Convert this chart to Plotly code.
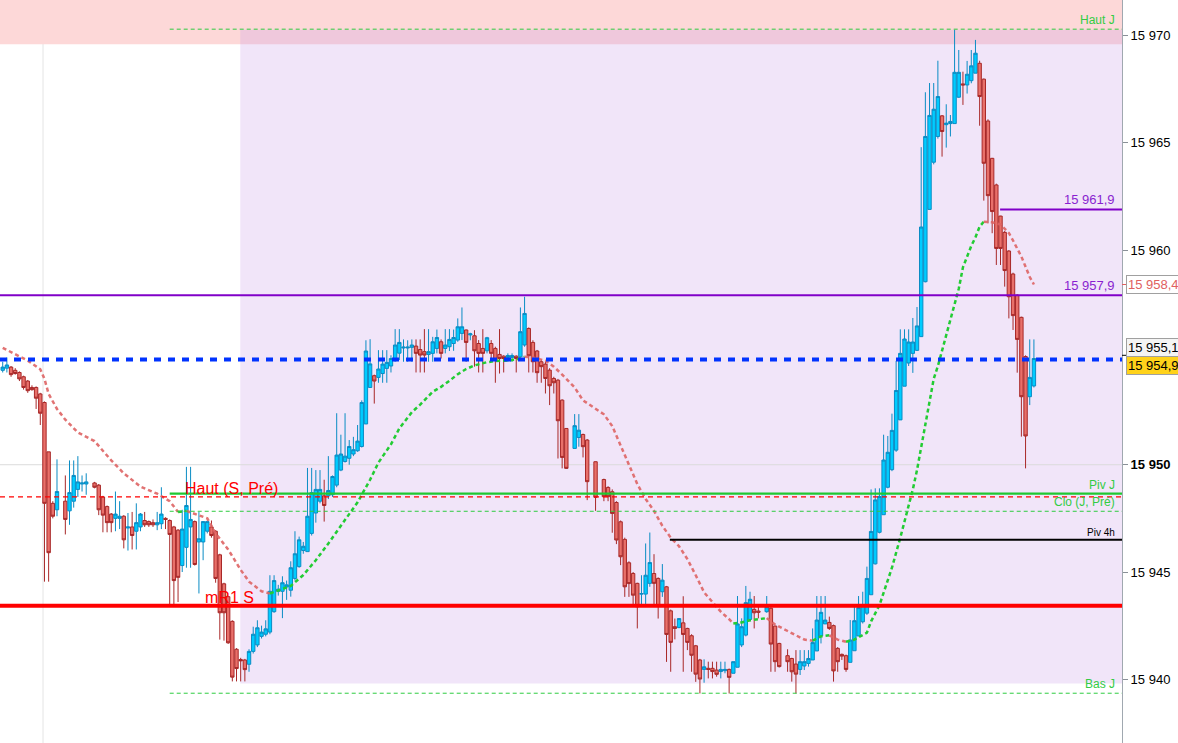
import plotly.graph_objects as go

# ---------------- data ----------------
# bar slots (one per period); a few slots printed no bar
gap_slots = [14, 21, 136, 141, 143, 182, 187]
n_slots = 248
bar_x = [i for i in range(n_slots) if i not in gap_slots]

bar_open = [
    # 0-13
    15954.4, 15954.5, 15954.55, 15954.4, 15954.3, 15954.1, 15953.9, 15953.6, 15953.6, 15953.3,
    15952.9, 15950.6, 15948.2, 15947.9,
    # 15-20
    15948.3, 15947.85, 15948.3, 15948.85, 15949.1, 15949.1,
    # 22-58
    15949.15, 15949.05, 15948.5, 15948.05, 15947.7, 15947.5, 15947.5, 15947.6, 15947.05, 15947.1,
    15946.9, 15947.1, 15947.4, 15947.35, 15947.3, 15947.2, 15947.25, 15947.5, 15947.4, 15947.1,
    15946.95, 15945.3, 15946.15, 15947.1, 15947.35, 15946.4, 15946.4, 15946.9, 15947.1, 15946.9,
    15945.8, 15944.45, 15943.85, 15942.7, 15941.4, 15940.92, 15940.9,
    # 59-135
    15940.7, 15941.3, 15941.6, 15942.0, 15942.1, 15942.2, 15943.15, 15944.1, 15944.1, 15944.3,
    15944.15, 15944.7, 15945.25, 15946.0, 15945.95, 15946.8, 15947.75, 15948.3, 15948.55, 15948.55,
    15948.6, 15949.05, 15949.75, 15950.15, 15950.3, 15950.5, 15950.65, 15950.85, 15951.9, 15953.6,
    15954.15, 15954.07, 15954.25, 15954.49, 15954.6, 15954.85, 15955.2, 15955.44, 15955.44, 15955.47,
    15955.53, 15955.37, 15955.27, 15955.14, 15955.19, 15955.42, 15955.73, 15955.42, 15955.5, 15955.65,
    15955.81, 15956.12, 15956.28, 15956.05, 15956.01, 15955.65, 15955.42, 15955.31, 15955.65, 15955.42,
    15955.14, 15955.06, 15955.0, 15955.0, 15955.06, 15955.03, 15955.58, 15956.35, 15955.7, 15955.3,
    15954.8, 15954.69, 15954.41, 15954.02, 15953.94, 15953.01, 15951.69,
    # 137-140, 142
    15950.76, 15951.27, 15951.41, 15951.15, 15950.14,
    # 144-181
    15949.31, 15948.94, 15948.74, 15948.24, 15947.34, 15946.52, 15945.43, 15944.93, 15944.47, 15943.97,
    15943.97, 15944.47, 15944.93, 15944.7, 15944.08, 15944.31, 15943.19, 15942.45, 15942.41, 15942.63,
    15942.37, 15942.03, 15941.56, 15940.9, 15940.46, 15940.51, 15940.51, 15940.43, 15940.36, 15940.4,
    15940.46, 15940.28, 15940.56, 15941.6, 15942.06, 15942.79, 15943.26, 15943.18,
    # 183-186
    15943.15, 15943.31, 15942.48, 15941.67,
    # 188-247
    15941.1, 15940.97, 15940.71, 15940.46, 15940.62, 15940.74, 15940.9, 15941.32, 15942.02, 15942.58,
    15942.65, 15942.5, 15941.44, 15941.16, 15941.1, 15940.79, 15941.33, 15942.02, 15942.68, 15943.08,
    15943.94, 15945.38, 15946.85, 15947.67, 15948.95, 15949.77, 15950.68, 15952.09, 15953.66, 15954.74,
    15955.19, 15955.33, 15955.97, 15958.53, 15961.9, 15964.1, 15965.3, 15966.26, 15965.85, 15965.9,
    15965.9, 15967.13, 15967.75, 15967.7, 15967.9, 15968.25, 15968.71, 15967.97, 15966.02, 15964.28,
    15963.04, 15961.59, 15960.83, 15959.96, 15958.89, 15957.9, 15956.87, 15955.04, 15953.17, 15953.67,
]

bar_high = [
    # 0-13
    15954.8, 15955.0, 15954.6, 15954.5, 15954.35, 15954.15, 15953.95, 15953.7, 15953.65, 15953.35,
    15952.95, 15950.6, 15948.3, 15950.25,
    # 15-20
    15949.5, 15950.2, 15950.2, 15950.4, 15949.5, 15949.6,
    # 22-58
    15949.2, 15949.1, 15948.55, 15948.1, 15947.75, 15948.75, 15948.3, 15947.65, 15947.75, 15947.8,
    15948.2, 15947.75, 15947.8, 15947.4, 15947.45, 15947.8, 15948.95, 15947.55, 15947.45, 15947.15,
    15947.0, 15947.9, 15949.9, 15949.9, 15947.4, 15947.8, 15947.35, 15947.4, 15947.4, 15946.95,
    15945.85, 15944.5, 15943.9, 15942.75, 15941.45, 15941.0, 15940.95,
    # 59-135
    15941.4, 15942.45, 15942.75, 15942.5, 15942.75, 15944.85, 15944.85, 15944.4, 15944.8, 15944.6,
    15945.5, 15946.9, 15946.65, 15946.4, 15949.85, 15949.85, 15949.75, 15949.75, 15949.3, 15950.4,
    15949.5, 15952.4, 15951.4, 15952.4, 15951.15, 15951.3, 15951.85, 15953.0, 15955.8, 15955.85,
    15954.2, 15955.34, 15955.34, 15955.34, 15955.1, 15956.32, 15956.32, 15955.84, 15955.8, 15955.84,
    15955.84, 15955.84, 15956.32, 15956.32, 15955.96, 15956.3, 15955.84, 15956.32, 15956.32, 15956.3,
    15956.82, 15957.33, 15956.3, 15956.15, 15956.27, 15955.81, 15956.32, 15955.96, 15955.81, 15955.5,
    15956.32, 15955.1, 15955.19, 15955.19, 15955.1, 15957.33, 15957.83, 15956.4, 15955.8, 15955.35,
    15954.9, 15954.8, 15954.5, 15954.1, 15954.0, 15953.05, 15951.7,
    # 137-140, 142
    15952.36, 15952.36, 15951.45, 15951.2, 15950.15,
    # 144-181
    15949.35, 15949.0, 15948.85, 15948.3, 15947.4, 15946.6, 15945.5, 15945.0, 15944.5, 15944.85,
    15946.33, 15946.84, 15945.83, 15944.75, 15945.37, 15944.35, 15943.25, 15942.83, 15942.85, 15943.87,
    15942.4, 15942.1, 15941.6, 15940.95, 15940.93, 15940.82, 15940.82, 15940.82, 15940.82, 15940.82,
    15940.5, 15940.82, 15943.88, 15942.84, 15944.35, 15944.08, 15943.88, 15943.41,
    # 183-186
    15943.88, 15943.35, 15942.5, 15941.7,
    # 188-247
    15941.4, 15941.0, 15941.36, 15941.36, 15941.36, 15941.36, 15942.37, 15943.88, 15943.88, 15943.88,
    15942.92, 15942.55, 15941.5, 15941.2, 15941.15, 15942.76, 15943.46, 15943.88, 15944.08, 15945.25,
    15948.85, 15948.9, 15948.9, 15951.4, 15951.34, 15952.38, 15954.84, 15956.31, 15956.31, 15956.31,
    15956.84, 15957.35, 15964.8, 15967.36, 15967.79, 15967.79, 15968.83, 15966.3, 15966.8, 15966.3,
    15970.27, 15969.33, 15968.32, 15968.82, 15969.33, 15969.8, 15968.83, 15968.0, 15966.1, 15964.3,
    15963.1, 15961.6, 15960.9, 15960.0, 15958.95, 15957.95, 15956.9, 15955.1, 15955.84, 15955.84,
]

bar_low = [
    # 0-13
    15954.3, 15954.3, 15954.1, 15954.2, 15953.9, 15953.5, 15953.35, 15953.45, 15952.6, 15951.85,
    15944.55, 15944.55, 15947.5, 15947.6,
    # 15-20
    15946.75, 15947.2, 15948.0, 15948.5, 15948.75, 15948.6,
    # 22-58
    15948.9, 15947.65, 15946.85, 15946.85, 15946.85, 15946.9, 15947.0, 15946.1, 15946.0, 15946.05,
    15946.05, 15946.9, 15947.1, 15947.1, 15947.1, 15946.95, 15947.0, 15947.0, 15943.5, 15943.5,
    15943.6, 15945.0, 15945.2, 15945.2, 15945.3, 15944.0, 15945.55, 15946.8, 15946.6, 15944.5,
    15941.85, 15941.8, 15941.65, 15939.9, 15939.9, 15939.9, 15939.9,
    # 59-135
    15940.35, 15941.2, 15941.5, 15941.9, 15942.0, 15942.1, 15943.1, 15943.9, 15942.85, 15943.7,
    15943.85, 15944.6, 15945.2, 15945.85, 15945.95, 15946.7, 15947.3, 15948.2, 15947.35, 15948.4,
    15948.5, 15948.95, 15949.7, 15950.1, 15950.0, 15950.4, 15950.6, 15950.8, 15951.9, 15953.6,
    15952.85, 15953.82, 15953.82, 15953.82, 15954.3, 15954.8, 15954.88, 15954.8, 15954.8, 15954.8,
    15954.3, 15954.3, 15954.3, 15954.8, 15954.8, 15955.19, 15954.95, 15955.19, 15955.3, 15955.31,
    15955.73, 15955.81, 15954.8, 15955.8, 15954.57, 15954.3, 15954.3, 15955.19, 15954.8, 15953.82,
    15954.25, 15954.3, 15954.8, 15954.8, 15954.3, 15955.0, 15955.5, 15954.3, 15954.3, 15953.82,
    15953.82, 15953.32, 15952.78, 15953.32, 15950.29, 15949.83, 15949.8,
    # 137-140, 142
    15950.76, 15950.84, 15950.34, 15948.35, 15947.85,
    # 144-181
    15948.3, 15948.3, 15946.83, 15946.3, 15945.32, 15943.84, 15943.84, 15943.38, 15942.37, 15943.38,
    15943.38, 15944.31, 15943.38, 15942.83, 15943.84, 15940.81, 15940.35, 15941.86, 15942.38, 15940.35,
    15941.36, 15940.35, 15939.88, 15939.34, 15939.84, 15940.04, 15940.04, 15940.12, 15940.04, 15940.28,
    15939.34, 15940.28, 15940.56, 15941.5, 15942.0, 15942.7, 15942.37, 15942.84,
    # 183-186
    15943.1, 15940.35, 15940.35, 15940.55,
    # 188-247
    15940.35, 15939.89, 15939.34, 15940.2, 15940.43, 15940.59, 15940.9, 15941.32, 15941.67, 15942.58,
    15942.3, 15939.89, 15940.35, 15940.9, 15940.35, 15940.79, 15941.33, 15942.02, 15942.6, 15943.0,
    15943.94, 15945.35, 15946.8, 15947.67, 15948.9, 15949.7, 15950.6, 15952.09, 15953.66, 15954.6,
    15954.28, 15955.3, 15955.97, 15958.5, 15961.9, 15964.0, 15965.2, 15964.36, 15964.78, 15965.3,
    15965.9, 15967.1, 15966.77, 15967.3, 15967.78, 15968.25, 15965.8, 15962.31, 15961.25, 15960.79,
    15959.31, 15959.31, 15958.3, 15956.82, 15956.28, 15954.29, 15951.31, 15949.83, 15952.78, 15953.6,
]

bar_close = [
    # 0-13
    15954.55, 15954.65, 15954.2, 15954.25, 15954.0, 15953.6, 15953.45, 15953.5, 15953.1, 15952.4,
    15948.2, 15945.9, 15947.6, 15948.75,
    # 15-20
    15947.45, 15948.7, 15949.5, 15949.2, 15949.15, 15949.2,
    # 22-58
    15948.95, 15947.9, 15947.65, 15947.3, 15947.3, 15947.7, 15947.6, 15946.5, 15947.1, 15946.7,
    15947.3, 15947.7, 15947.2, 15947.2, 15947.2, 15947.3, 15947.7, 15947.45, 15946.75, 15944.6,
    15944.75, 15947.0, 15948.1, 15947.45, 15945.35, 15946.55, 15947.35, 15947.35, 15946.7, 15944.7,
    15943.1, 15943.1, 15941.7, 15940.1, 15940.5, 15940.86, 15940.45,
    # 59-135
    15941.3, 15942.1, 15942.4, 15942.2, 15942.35, 15944.1, 15944.6, 15944.2, 15944.5, 15944.4,
    15945.2, 15945.85, 15946.5, 15946.2, 15947.6, 15948.7, 15948.85, 15948.85, 15948.1, 15948.8,
    15949.45, 15950.45, 15950.5, 15950.4, 15950.85, 15950.7, 15951.1, 15952.9, 15955.3, 15954.7,
    15953.9, 15954.46, 15954.69, 15954.77, 15954.95, 15955.58, 15955.7, 15955.48, 15955.48, 15955.58,
    15955.19, 15955.11, 15955.11, 15955.27, 15955.73, 15955.93, 15955.19, 15955.58, 15955.84, 15955.93,
    15956.43, 15956.43, 15955.7, 15956.1, 15955.31, 15955.19, 15955.19, 15955.92, 15955.19, 15954.88,
    15954.95, 15954.95, 15955.09, 15955.09, 15954.95, 15956.2, 15957.05, 15955.08, 15954.8, 15954.29,
    15954.57, 15954.02, 15953.68, 15953.82, 15952.05, 15950.34, 15949.83,
    # 137-140, 142
    15951.82, 15951.61, 15950.84, 15949.21, 15948.48,
    # 144-181
    15948.51, 15948.51, 15947.73, 15946.49, 15945.71, 15944.31, 15944.46, 15943.92, 15943.38, 15943.99,
    15944.85, 15945.44, 15944.47, 15943.41, 15944.62, 15942.09, 15941.72, 15942.37, 15942.83, 15942.09,
    15941.72, 15941.12, 15940.24, 15940.01, 15940.58, 15940.46, 15940.36, 15940.23, 15940.46, 15940.46,
    15940.09, 15940.82, 15942.58, 15942.45, 15943.57, 15943.73, 15943.1, 15943.12,
    # 183-186
    15943.38, 15941.64, 15940.82, 15940.59,
    # 188-247
    15940.82, 15940.35, 15940.24, 15940.82, 15940.82, 15940.97, 15941.71, 15942.76, 15943.12, 15942.76,
    15942.37, 15940.39, 15940.82, 15941.08, 15940.46, 15941.83, 15942.73, 15943.34, 15943.46, 15944.7,
    15946.89, 15948.36, 15948.52, 15950.22, 15950.58, 15951.6, 15953.46, 15955.19, 15955.86, 15955.72,
    15955.72, 15956.47, 15961.08, 15965.3, 15966.28, 15966.57, 15967.16, 15965.53, 15965.92, 15966.0,
    15968.29, 15968.29, 15967.7, 15968.2, 15968.59, 15969.18, 15967.16, 15964.05, 15962.54, 15961.8,
    15960.08, 15960.08, 15959.05, 15957.83, 15956.95, 15955.84, 15953.17, 15951.34, 15954.07, 15954.95,
]

# moving average (green while rising, red while falling)
ma_x = [0, 3, 6, 9, 10, 11, 13, 15, 18, 22, 26, 29, 33, 37, 40, 42, 44, 46, 49, 51,
        54, 57, 59, 62, 64, 66, 69, 72, 75, 78, 82, 85, 88, 90, 93, 95, 98, 100, 103, 105,
        107, 109, 111, 113, 116, 118, 121, 123, 125, 127, 130, 132, 134, 137, 139, 142, 144, 146, 148, 150,
        152, 154, 156, 158, 160, 162, 164, 166, 168, 170, 172, 174, 175, 177, 179, 181, 183, 185, 188, 190,
        192, 194, 196, 198, 200, 202, 204, 207, 208, 210, 212, 213, 215, 217, 218, 219, 220, 221, 222, 223,
        224, 225, 226, 227, 228, 229, 230, 231, 232, 233, 234, 235, 237, 239, 241, 242, 244, 246, 247]
ma_y = [15955.45, 15955.15, 15954.85, 15954.45, 15954.0, 15953.3, 15952.6, 15952.1, 15951.5, 15951.1,
        15950.2, 15949.6, 15948.98, 15948.65, 15948.3, 15947.8, 15947.85, 15947.7, 15947.5, 15946.8,
        15946.05, 15945.1, 15944.55, 15944.1, 15944.0, 15944.15, 15944.35, 15944.86, 15945.55, 15946.33,
        15947.4, 15948.25, 15949.3, 15950.1, 15950.95, 15951.69, 15952.45, 15952.8, 15953.4, 15953.63,
        15953.91, 15954.22, 15954.46, 15954.63, 15954.78, 15954.83, 15954.86, 15954.9, 15955.03, 15955.0,
        15954.85, 15954.57, 15954.2, 15953.6, 15953.0, 15952.6, 15952.35, 15951.8, 15950.9, 15949.95,
        15949.1, 15948.4, 15947.85, 15947.15, 15946.6, 15946.2, 15945.6, 15944.85, 15944.05, 15943.6,
        15943.15, 15942.8, 15942.6, 15942.65, 15942.75, 15942.8, 15942.85, 15942.55, 15942.25, 15942.05,
        15941.85, 15941.8, 15942.0, 15942.05, 15941.85, 15941.75, 15941.85, 15942.17, 15942.7, 15943.45,
        15944.6, 15945.2, 15946.6, 15948.1, 15948.85, 15949.75, 15950.8, 15951.9, 15953.0, 15954.0,
        15954.6, 15955.3, 15956.1, 15956.8, 15957.44, 15958.2, 15959.2, 15959.7, 15960.2, 15960.6,
        15961.1, 15961.33, 15961.3, 15961.2, 15960.8, 15960.45, 15959.7, 15958.75, 15958.4]

# price levels
haut_j = 15970.3
bas_j = 15939.35
piv_j = 15948.65
clo_j_pre = 15947.83
haut_s_pre = 15948.5
piv_4h = 15946.5
mr1_s = 15943.43
level_hi = 15961.9
level_lo = 15957.9
last_price = 15954.9
bid_price = 15955.1
ma_last = 15958.4
grid_price = 15950

# zones
pink_zone_low = 15969.6
range_zone = (15939.8, 15970.27)
range_zone_start = 56.9
day_start = 9.65
daily_start = 40.0
piv_4h_start = 159.8
level_hi_start = 238.9

y_ticks = [15940, 15945, 15950, 15960, 15965, 15970]
y_tick_text = ["15 940", "15 945", "<b>15 950</b>", "15 960", "15 965", "15 970"]

assert len(bar_x) == len(bar_open) == len(bar_high) == len(bar_low) == len(bar_close)
assert len(ma_x) == len(ma_y)

# ---------------- figure ----------------
X_RANGE = [-0.65, 268.1]
Y_RANGE = [15937.03, 15971.66]
FONT = "Liberation Sans, Arial, sans-serif"

GREEN = "#2ecc40"
RED = "#ff0000"
PURPLE = "#8000c8"
BLUE = "#0033ff"

fig = go.Figure()

fig.add_trace(go.Candlestick(
    x=bar_x, open=bar_open, high=bar_high, low=bar_low, close=bar_close,
    increasing=dict(fillcolor="#00ccff", line=dict(color="#0a8cc4", width=1)),
    decreasing=dict(fillcolor="#e8706a", line=dict(color="#a82828", width=1)),
    whiskerwidth=0, showlegend=False, hoverinfo="skip",
))

# moving average split into rising / falling runs
runs = []
cur = [0]
cur_up = ma_y[1] > ma_y[0]
for i in range(1, len(ma_x)):
    up = ma_y[i] > ma_y[i - 1]
    if up != cur_up:
        runs.append((cur_up, cur))
        cur = [i - 1]
        cur_up = up
    cur.append(i)
runs.append((cur_up, cur))

for up, idx in runs:
    fig.add_trace(go.Scatter(
        x=[ma_x[i] for i in idx], y=[ma_y[i] for i in idx], mode="lines",
        line=dict(color="#22cc33" if up else "rgba(222,100,100,0.9)", width=2.5, dash="4px,3px"),
        showlegend=False, hoverinfo="skip",
    ))

shapes = []
# zones
shapes.append(dict(type="rect", xref="x", yref="y", x0=X_RANGE[0], x1=X_RANGE[1],
                   y0=pink_zone_low, y1=Y_RANGE[1], fillcolor="#fdd8d8", line_width=0, layer="below"))
shapes.append(dict(type="rect", xref="x", yref="y", x0=range_zone_start, x1=X_RANGE[1],
                   y0=range_zone[0], y1=range_zone[1], fillcolor="rgba(200,150,230,0.25)",
                   line_width=0, layer="below"))
# grid
shapes.append(dict(type="line", xref="x", yref="y", x0=X_RANGE[0], x1=X_RANGE[1],
                   y0=grid_price, y1=grid_price, line=dict(color="#dcdcdc", width=1), layer="below"))
shapes.append(dict(type="line", xref="x", yref="paper", x0=day_start, x1=day_start,
                   y0=0, y1=1, line=dict(color="#e4e4e4", width=1), layer="below"))


def hline(y, x0, color, width, dash="solid"):
    shapes.append(dict(type="line", xref="x", yref="y", x0=x0, x1=X_RANGE[1], y0=y, y1=y,
                       line=dict(color=color, width=width, dash=dash), layer="above"))


hline(haut_j, daily_start, GREEN, 1, "4px,3px")
hline(level_hi, level_hi_start, PURPLE, 2)
hline(level_lo, X_RANGE[0], PURPLE, 2)
hline(haut_s_pre, X_RANGE[0], RED, 1.3, "5px,4px")
hline(piv_j, daily_start, "#1fc832", 2.2)
hline(clo_j_pre, daily_start, GREEN, 1, "4px,3px")
hline(piv_4h, piv_4h_start, "#000000", 2)
hline(mr1_s, X_RANGE[0], RED, 4)
hline(bas_j, daily_start, GREEN, 1, "4px,3px")
hline(last_price, X_RANGE[0], BLUE, 4, "7px,7px")

# little pointer ticks on the price scale for the boxed values
for y, col in [(ma_last, "#e06060"), (bid_price, "#000000")]:
    shapes.append(dict(type="line", xref="paper", yref="y", x0=1, x1=1.005, y0=y, y1=y,
                       line=dict(color=col, width=1), layer="above"))

annotations = []


def right_label(text, y, color, size=12):
    annotations.append(dict(text=text, xref="paper", yref="y", x=1, y=y, xanchor="right",
                            yanchor="bottom", xshift=-5, yshift=0, showarrow=False,
                            font=dict(family=FONT, size=size, color=color)))


right_label("Haut J", haut_j, "#33cc44")
right_label("15 961,9", level_hi, "#8a1fd0", 13)
right_label("15 957,9", level_lo, "#8a1fd0", 13)
right_label("Piv J", piv_j, "#33cc44")
right_label("Clo (J, Pré)", clo_j_pre, "#33cc44")
right_label("Piv 4h", piv_4h, "#000000", 10)
right_label("Bas J", bas_j, "#33cc44")

annotations.append(dict(text="Haut (S, Pré)", xref="x", yref="y", x=43.2, y=haut_s_pre,
                        xanchor="left", yanchor="bottom", yshift=-2, showarrow=False,
                        font=dict(family=FONT, size=16, color=RED)))
annotations.append(dict(text="mR1 S", xref="x", yref="y", x=48.0, y=mr1_s,
                        xanchor="left", yanchor="bottom", yshift=-2, showarrow=False,
                        font=dict(family=FONT, size=16, color=RED)))

# value boxes on the price scale
annotations.append(dict(text="15 958,4", xref="paper", yref="y", x=1, y=ma_last,
                        xanchor="left", yanchor="middle", xshift=4, showarrow=False,
                        bgcolor="#ffffff", bordercolor="#a0a0a0", borderwidth=1, borderpad=1,
                        font=dict(family=FONT, size=13, color="#e06060")))
annotations.append(dict(text="15 955,1", xref="paper", yref="y", x=1, y=bid_price,
                        xanchor="left", yanchor="bottom", xshift=4, yshift=-2, showarrow=False,
                        bgcolor="#f4f4f4", bordercolor="#a0a0a0", borderwidth=1, borderpad=1,
                        font=dict(family=FONT, size=13, color="#000000")))
annotations.append(dict(text="15 954,9", xref="paper", yref="y", x=1, y=last_price,
                        xanchor="left", yanchor="top", xshift=4, yshift=4, showarrow=False,
                        bgcolor="#ffd21a", bordercolor="#a0a0a0", borderwidth=1, borderpad=1,
                        font=dict(family=FONT, size=13, color="#000000")))

fig.update_layout(
    width=1178, height=743,
    margin=dict(l=0, r=56, t=0, b=0),
    paper_bgcolor="#ffffff", plot_bgcolor="#ffffff",
    showlegend=False,
    boxgap=0.12, boxgroupgap=0.08,
    shapes=shapes, annotations=annotations,
    font=dict(family=FONT, size=13, color="#000000"),
    xaxis=dict(range=X_RANGE, visible=False, rangeslider=dict(visible=False), fixedrange=True),
    yaxis=dict(range=Y_RANGE, side="right", tickvals=y_ticks, ticktext=y_tick_text,
               ticks="outside", ticklen=5, tickcolor="#8a9098", showline=True,
               linecolor="#a0a8b0", showgrid=False, zeroline=False,
               tickfont=dict(family=FONT, size=13, color="#000000"), fixedrange=True),
)

# page has a default body margin; drop it so the chart sits flush in the window
fig.write_html("out.html", config={"displayModeBar": False},
               post_script="document.body.style.margin='0';document.body.style.overflow='hidden';")
